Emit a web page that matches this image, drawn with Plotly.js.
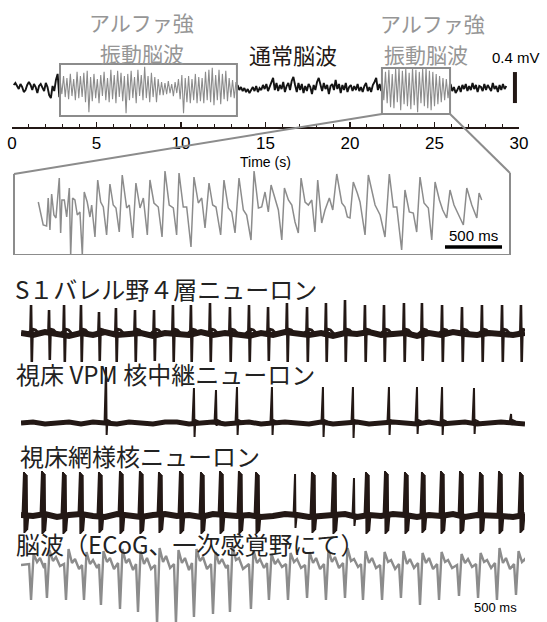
<!DOCTYPE html>
<html><head><meta charset="utf-8">
<script src="https://cdn.plot.ly/plotly-3.0.1.min.js"></script>
<style>html,body{margin:0;padding:0;background:#fff}</style>
</head><body><div id="chart" style="width:547px;height:622px"></div>
<script>
// ---------- Top overview EEG (µV), sampled every 0.1 s ----------
const topDt = 0.1;
const bg1Start = 0.1;
const bg1V = [39,65,26,-13,52,13,-52,-26,39,78,39,-26,52,13,-65,26,52,0,-39,65,13,-91,-130,26,-39,104,182,-117];
const alpha1Start = 2.85;
const alpha1V = [104,-78,156,-117,130,-143,182,-104,117,-156,208,-130,
  156,-117,195,-182,221,-312,143,-169,
  182,-130,117,-195,169,-104,208,-156,130,-182,
  234,-143,169,-195,221,-117,195,-169,156,-325,
  182,-156,221,-130,143,-195,234,-104,169,-156,
  273,-130,156,-182,195,-117,143,-182,117,-91,
  78,-91,65,-78,91,-65,52,-104,78,-65,
  117,-143,169,-325,130,-182,156,-195,117,-156,
  182,-195,143,-169,130,-195,208,-156,234,-182,
  260,-221,169,-156,234,-208,182,-143,221,-169,
  130,-117,104,-130,78];
const bg2Start = 13.35;
const bg2V = [39,-26,13,-39,0,-52,-13,-65,-26,13,
  -39,26,-52,0,-26,39,-13,52,-39,26,
  78,130,-26,65,-39,39,-13,78,-52,26,
  65,-26,91,143,39,-52,65,-26,52,-65,
  26,-39,52,13,-78,39,-26,78,130,26,
  -39,65,-13,39,-78,26,52,-26,104,-13,
  52,-65,39,-26,65,-52,13,39,-39,26,
  -26,52,-39,13,-52,26,65,-39,13,-52,
  39,78,130,-26,52,-39];
const alpha2Start = 21.9;
const alpha2V = [130,-156,208,-195,234,-247,182,-260,247,-182,
  260,-286,221,-208,247,-234,195,-273,260,-221,
  234,-312,208,-195,247,-234,260,-260,221,-286,
  208,-234,182,-208,156,-182,130,-156,117,-130,78];
const bg3Start = 25.95;
const bg3V = [52,-39,13,-65,-26,26,-52,39,-13,52,
  -39,26,-26,65,-13,39,-52,26,13,-39,
  52,-26,39,0,-39,65,-13,26,-52,39,
  -26,52,-13,26];
const alphaWin1 = [2.84, 13.31], alphaWin1V = [-361, 310];
const alphaWin2 = [21.89, 25.92], alphaWin2V = [-335, 258];
const scaleBarT = 29.76, scaleBarV = [-194, 206];  // 0.4 mV

// ---------- Expanded alpha EEG (ms from window start, amplitude a.u.) ----------
const zoomT = [53,96,126,140,155,170,190,208,237,249,
 260,281,302,325,337,354,374,395,418,439,
 456,482,506,521,550,574,600,623,652,681,
 710,734,763,789,828,851,881,909,945,974,
 1009,1032,1067,1105,1138,1164,1201,1237,1266,1287,
 1324,1354,1392,1418,1456,1486,1515,1550,1582,1611,
 1652,1681,1719,1749,1778,1813,1851,1880,1918,1945,
 1983,2012,2041,2070,2094,2129,2158,2188,2211,2246,
 2276,2304,2333,2357,2392,2421,2451,2479,2503,2538,
 2567,2605,2635,2670,2714,2742,2763,2786,2815,2850,
 2874,2918,2947,3006,3050,3093,3131,3166,3196,3239,
 3268,3306,3341,3371,3400,3435,3473,3503,3532,3570,
 3599,3634,3663,3698,3736,3780,3810,3854,3898,3918,3941];
const zoomV = [5,-18,-19,9,-23,13,-8,-11,29,-26,
 7,7,-10,19,-48,9,7,-8,-5,-48,
 15,5,-10,2,-30,27,5,0,-28,23,
 2,-1,-25,32,-1,2,-31,24,-1,9,
 -28,27,4,0,-30,36,2,-1,-28,34,
 0,0,-40,30,4,9,-21,24,2,0,
 -28,27,-1,-5,-26,29,-3,-8,-33,36,
 -1,0,15,-5,22,9,-3,-33,19,7,
 2,-15,-26,29,5,2,7,-25,27,-16,
 -3,9,-3,33,4,0,-10,-11,25,14,
 5,-28,32,2,-8,-30,33,0,0,-43,
 17,-5,-6,-25,30,4,-1,-33,25,7,
 -3,-11,17,2,-8,-18,19,2,-11,14,7];
const zoomScaleMs = [3619, 4119];

// ---------- Unit recordings (ms) ----------
const baseDt = 80;
const s1T = [67,187,287,400,520,633,760,887,1013,1133,1260,1393,1520,1647,1773,1907,2033,2160,2293,2420,2553,2673,2807,2940,3073,3207,3333];
const s1Up = [29,24,29,29,22,26,24,24,29,29,31,27,29,27,31,27,31,34,29,29,31,31,29,27,29,29,29];
const s1Down = [28,26,28,28,27,28,28,27,28,28,28,28,28,27,28,28,28,28,28,28,28,27,28,28,28,28,28];
const s1Base = [1,-1,2,0,-2,1,-1,2,-1,0,1,-2,1,0,-1,2,-1,1,0,-2,1,-1,2,0,-1,1,-2,1,0,2,-1,0,1,-2,1,-1,2,0,-1,1,0,-1,1];

const vpmT = [567,1153,1300,1440,1673,2013,2213,2453,2640,2807,3020,3267];
const vpmUp = [56,35,33,36,36,36,36,36,36,36,35,9];
const vpmDown = [12,14,3,12,12,14,15,12,11,12,11,2];
const vpmBase = [0,1,-1,0,1,-1,1,0,-1,1,0,-1,1,1,-1,0,1,-1,0,1,-1,0,1,0,-1,1,-1,0,1,-1,0,1,0,-1,1,-1,0,1,-1,0,1,0,-1];

const trnT = [20,140,280,393,520,660,793,920,1060,1200,1327,1453,1567,1827,1940,2080,2220,2300,2427,2560,2673,2800,2927,3060,3187,3327];
const trnUp = [44,45,44,44,44,45,45,44,45,44,45,45,44,42,44,44,38,44,45,44,44,45,45,44,45,44];
const trnDown = [17,18,18,18,17,18,18,17,18,18,18,18,18,12,17,18,10,18,18,18,17,18,18,18,18,17];
const trnSpikes = [4,4,4,4,4,4,4,4,4,4,4,4,4,1,4,4,1,4,4,4,4,4,4,4,4,4];
const trnBase = [1,0,2,-1,1,2,0,-1,2,1,-1,1,2,0,1,-1,2,1,0,1,-1,0,2,1,-1,0,1,2,-1,1,0,2,1,-1,1,0,2,-1,1,1,0,-1,1];

// ---------- ECoG, per cycle features (ms, a.u.) ----------
const ecogTroughT = [67,173,300,420,533,660,780,907,1033,1153,1280,1393,1533,1653,1780,1907,2033,2160,2280,2407,2533,2660,2787,2920,3047,3173,3300];
const ecogPreV    = [2,3,2,1,2,3,2,1,2,3,2,1,2,3,2,1,2,3,2,1,2,3,2,1,2,3,2];
const ecogTroughV = [-34,-32,-34,-34,-39,-43,-46,-58,-57,-51,-48,-46,-43,-34,-34,-32,-34,-32,-34,-34,-32,-39,-34,-30,-32,-34,-29];
const ecogPeakV   = [12,16,17,14,15,17,15,18,16,17,14,20,16,12,13,14,16,18,15,14,15,13,14,12,13,18,15];
const ecogShoulderV=[4,5,3,2,4,3,2,4,3,5,2,6,3,2,4,3,4,5,3,4,2,3,4,3,4,3,4];
const ecogBumpV   = [8,9,7,6,8,7,8,10,8,9,7,8,7,6,7,8,9,7,8,6,7,8,6,7,6,8,7];
const ecogDipV    = [-2,0,-3,-2,-3,-4,-3,-2,-4,-3,-2,-3,-2,-1,-2,-3,-2,-1,-2,-3,-2,-3,-2,-1,-2,-3,-2];

// ---------- helpers ----------
const W = 547, H = 622;
const px = x => x / W, py = y => 1 - y / H;
function sampled(t0, dt, vals){ return {x: vals.map((_, i) => +(t0 + i*dt).toFixed(3)), y: vals}; }
function spikes(T, up, down){
  const x = [], y = [];
  T.forEach((t, i) => {
    x.push(t-25, t-4, t, t+5, t+10, t+30, t+55, null);
    y.push(0, 3, up[i], -down[i], 5, 4, 0, null);
  });
  return {x, y};
}
function vpmSpikes(){
  const x = [], y = [];
  vpmT.forEach((t, i) => {
    x.push(t-10, t, t+4, t+9, t+25, t+40, null);
    y.push(0, vpmUp[i], -vpmDown[i], 3, 2, 0, null);
  });
  return {x, y};
}
function trnBursts(){
  const x = [], y = [];
  trnT.forEach((t, i) => {
    x.push(t-10); y.push(0);
    for (let k = 0; k < trnSpikes[i]; k++){
      x.push(t + k*6, t + k*6 + 3); y.push(trnUp[i] - k, -trnDown[i] + k);
    }
    x.push(t + trnSpikes[i]*6 + 6, null); y.push(2, null);
  });
  return {x, y};
}
function ecog(){
  const x = [0], y = [1];
  ecogTroughT.forEach((t, i) => {
    x.push(t-13, t, t+17, t+40, t+60, t+87);
    y.push(ecogPreV[i], ecogTroughV[i], ecogPeakV[i], ecogShoulderV[i], ecogBumpV[i], ecogDipV[i]);
  });
  return {x, y};
}

const BLACK = '#141414', DARK = '#231815', GRAY = '#8c8c8c', LGRAY = '#969696';
const ax = {
  x:  {domain:[px(12), px(519)], range:[0, 30]},
  y:  {domain:[py(127), py(55)], range:[-503, 426]},
  x2: {domain:[px(14), px(510)], range:[-160, 4189]},
  y2: {domain:[py(255), py(165)], range:[-48, 42]},
  x3: {domain:[px(21), px(525)], range:[0, 3360]},
  y3: {domain:[py(366), py(296)], range:[-32, 38]},
  y4: {domain:[py(440), py(360)], range:[-17, 63]},
  y5: {domain:[py(540), py(466)], range:[-24, 50]},
  y6: {domain:[py(622), py(540)], range:[-56, 26]}
};
const toP = (a, v) => a.domain[0] + (v - a.range[0]) / (a.range[1] - a.range[0]) * (a.domain[1] - a.domain[0]);

const line = (d, xa, ya, color, width) => ({type:'scatter', mode:'lines', x:d.x, y:d.y, xaxis:xa, yaxis:ya,
  line:{color, width, shape:'linear'}, hoverinfo:'skip', connectgaps:false});

const traces = [
  line(sampled(bg1Start, topDt, bg1V), 'x', 'y', BLACK, 1.9),
  line(sampled(alpha1Start, topDt, alpha1V), 'x', 'y', GRAY, 1.1),
  line(sampled(bg2Start, topDt, bg2V), 'x', 'y', BLACK, 1.9),
  line(sampled(alpha2Start, topDt, alpha2V), 'x', 'y', GRAY, 1.1),
  line(sampled(bg3Start, topDt, bg3V), 'x', 'y', BLACK, 1.9),
  line({x: zoomT, y: zoomV}, 'x2', 'y2', GRAY, 1.5),
  line(sampled(0, baseDt, s1Base), 'x3', 'y3', DARK, 6),
  line(spikes(s1T, s1Up, s1Down), 'x3', 'y3', DARK, 2.6),
  line(sampled(0, baseDt, vpmBase), 'x3', 'y4', DARK, 5),
  line(vpmSpikes(), 'x3', 'y4', DARK, 2),
  line(sampled(0, baseDt, trnBase), 'x3', 'y5', DARK, 6),
  line(trnBursts(), 'x3', 'y5', DARK, 2),
  line(ecog(), 'x3', 'y6', GRAY, 2.4)
];

const hidden = (a, anchor) => Object.assign({}, a, {visible:false, fixedrange:true, anchor, showgrid:false, zeroline:false});

const shapes = [
  {type:'rect', xref:'x', yref:'y', x0:alphaWin1[0], x1:alphaWin1[1], y0:alphaWin1V[0], y1:alphaWin1V[1], line:{color:GRAY, width:2}},
  {type:'rect', xref:'x', yref:'y', x0:alphaWin2[0], x1:alphaWin2[1], y0:alphaWin2V[0], y1:alphaWin2V[1], line:{color:GRAY, width:2}},
  {type:'line', xref:'x', yref:'y', x0:scaleBarT, x1:scaleBarT, y0:scaleBarV[0], y1:scaleBarV[1], line:{color:DARK, width:4}},
  {type:'line', xref:'paper', yref:'y2', x0:ax.x2.domain[0], x1:ax.x2.domain[0], y0:-48, y1:33, line:{color:GRAY, width:2}},
  {type:'line', xref:'paper', yref:'y2', x0:ax.x2.domain[0], x1:ax.x2.domain[1], y0:-48, y1:-48, line:{color:GRAY, width:2}},
  {type:'line', xref:'paper', yref:'y2', x0:ax.x2.domain[1], x1:ax.x2.domain[1], y0:-48, y1:34, line:{color:GRAY, width:2}},
  {type:'line', xref:'paper', yref:'paper', x0:toP(ax.x, alphaWin2[0]), y0:toP(ax.y, alphaWin2V[0]), x1:ax.x2.domain[0], y1:toP(ax.y2, 33), line:{color:GRAY, width:2}},
  {type:'line', xref:'paper', yref:'paper', x0:toP(ax.x, alphaWin2[1]), y0:toP(ax.y, alphaWin2V[0]), x1:ax.x2.domain[1], y1:toP(ax.y2, 34), line:{color:GRAY, width:2}},
  {type:'line', xref:'x2', yref:'y2', x0:zoomScaleMs[0], x1:zoomScaleMs[1], y0:-40, y1:-40, line:{color:'#000', width:3.5}}
];

const CJK = 'Noto Sans CJK JP, sans-serif';
const SANS = 'Liberation Sans, Arial, sans-serif';
const ann = (text, x, y, size, color, family, xanchor) => ({text, x:px(x), y:py(y), xref:'paper', yref:'paper',
  showarrow:false, xanchor:xanchor||'center', yanchor:'middle', font:{size, color, family}});
const annotations = [
  ann('アルファ強', 142, 22, 21, LGRAY, CJK),
  ann('振動脳波', 142, 53, 21, LGRAY, CJK),
  ann('通常脳波', 293, 54, 22, DARK, CJK),
  ann('アルファ強', 432, 23, 21, LGRAY, CJK),
  ann('振動脳波', 426, 54, 21, LGRAY, CJK),
  ann('0.4 mV', 516, 58, 15, '#000', SANS),
  ann('Time (s)', 265, 162, 14, '#000', SANS),
  {text:'500 ms', x:(zoomScaleMs[0]+zoomScaleMs[1])/2, y:-28, xref:'x2', yref:'y2', showarrow:false, xanchor:'center', yanchor:'middle', font:{size:15, color:'#000', family:SANS}},
  ann('S１バレル野４層ニューロン', 13, 288, 24, '#222', CJK, 'left'),
  ann('視床 VPM 核中継ニューロン', 14, 373, 24, '#222', CJK, 'left'),
  ann('視床網様核ニューロン', 18, 455, 24, '#222', CJK, 'left'),
  ann('脳波（ECoG、一次感覚野にて）', 14, 543, 24, '#222', CJK, 'left'),
  ann('500 ms', 495, 607, 13, '#000', SANS)
];

const layout = {
  width: W, height: H, margin:{l:0, r:0, t:0, b:0, pad:0},
  paper_bgcolor:'#fff', plot_bgcolor:'rgba(0,0,0,0)', showlegend:false,
  xaxis: Object.assign({}, ax.x, {anchor:'y', showline:true, linecolor:DARK, linewidth:2,
    ticks:'inside', ticklen:5, tickwidth:1.5, tickcolor:DARK, tick0:0, dtick:5,
    minor:{dtick:1, ticks:'inside', ticklen:3, tickwidth:1, tickcolor:DARK, showgrid:false},
    tickfont:{family:SANS, size:17, color:'#000'}, showgrid:false, zeroline:false, fixedrange:true}),
  yaxis: hidden(ax.y, 'x'),
  xaxis2: hidden(ax.x2, 'y2'), yaxis2: hidden(ax.y2, 'x2'),
  xaxis3: hidden(ax.x3, 'y3'),
  yaxis3: hidden(ax.y3, 'x3'), yaxis4: hidden(ax.y4, 'x3'),
  yaxis5: hidden(ax.y5, 'x3'), yaxis6: hidden(ax.y6, 'x3'),
  shapes, annotations
};

Plotly.newPlot('chart', traces, layout, {staticPlot:true, displayModeBar:false});
</script></body></html>
